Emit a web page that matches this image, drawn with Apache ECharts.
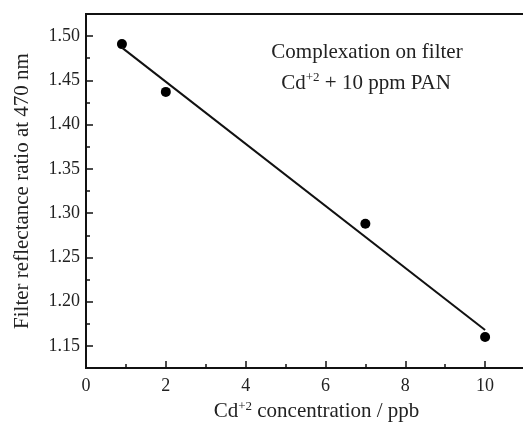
<!DOCTYPE html>
<html>
<head>
<meta charset="utf-8">
<script src="https://cdn.jsdelivr.net/npm/echarts@6/dist/echarts.min.js"></script>
<style>
  html, body { margin: 0; padding: 0; background: #fff; }
  #chart { width: 523px; height: 426px; }
</style>
</head>
<body>
<div id="chart"></div>
<script>
// measured points
const concentration = [0.9, 2, 7, 10];
const reflectance = [1.491, 1.437, 1.288, 1.160];
// linear fit endpoints
const fitX = [0.9, 10];
const fitY = [1.487, 1.168];
// y tick values
const yTicks = [1.15, 1.20, 1.25, 1.30, 1.35, 1.40, 1.45, 1.50];
const yMinorTicks = [1.175, 1.225, 1.275, 1.325, 1.375, 1.425, 1.475];

const font = "'Liberation Serif', 'Times New Roman', serif";
const ink = "#222";

const chart = echarts.init(document.getElementById("chart"));

chart.setOption({
  animation: false,
  grid: {
    left: 86, top: 14, width: 443, height: 354,
    outerBoundsMode: "none",
    show: true, borderColor: "#111", borderWidth: 2,
  },
  xAxis: {
    type: "value",
    min: 0,
    max: 11.1,
    interval: 2,
    name: "{t|Cd}{s|+2}{t| concentration / ppb}",
    nameLocation: "middle",
    nameGap: 31,
    nameTextStyle: {
      padding: [0, 0, 0, 18],
      rich: {
        t: { fontFamily: font, fontSize: 21, color: ink },
        s: { fontFamily: font, fontSize: 13, color: ink, verticalAlign: "bottom", padding: [0, 0, 11, 0] },
      },
    },
    axisLine: { show: true, lineStyle: { color: "#111", width: 2 } },
    axisTick: { show: true, inside: true, length: 7, lineStyle: { color: "#111", width: 1.5 } },
    minorTick: { show: true, splitNumber: 2, length: 4, lineStyle: { color: "#111", width: 1.5 } },
    axisLabel: { color: ink, fontFamily: font, fontSize: 18, margin: 9, showMaxLabel: false },
    splitLine: { show: false },
  },
  yAxis: [
    {
      type: "value",
      min: 1.125,
      max: 1.525,
      name: "Filter reflectance ratio at 470 nm",
      nameLocation: "middle",
      nameGap: 53,
      nameTextStyle: { fontFamily: font, fontSize: 21, color: ink },
      axisLine: { show: true, lineStyle: { color: "#111", width: 2 } },
      axisTick: { show: true, inside: true, length: 7, customValues: yTicks, lineStyle: { color: "#111", width: 1.5 } },
      axisLabel: {
        color: ink,
        fontFamily: font,
        fontSize: 18,
        margin: 6,
        customValues: yTicks,
        formatter: (v) => v.toFixed(2),
      },
      splitLine: { show: false },
    },
    {
      type: "value",
      position: "left",
      min: 1.125,
      max: 1.525,
      axisLine: { show: false },
      axisTick: { show: true, inside: true, length: 4, customValues: yMinorTicks, lineStyle: { color: "#111", width: 1.5 } },
      axisLabel: { show: false },
      splitLine: { show: false },
    },
  ],
  graphic: [
    {
      type: "text",
      x: 367,
      y: 52,
      style: {
        text: "Complexation on filter",
        fontFamily: font,
        fontSize: 21,
        fill: ink,
        align: "center",
        verticalAlign: "middle",
      },
    },
    {
      type: "text",
      x: 366,
      y: 83,
      style: {
        text: "{t|Cd}{s|+2}{t| + 10 ppm PAN}",
        align: "center",
        verticalAlign: "middle",
        rich: {
          t: { fontFamily: font, fontSize: 21, fill: ink },
          s: { fontFamily: font, fontSize: 13, fill: ink, verticalAlign: "bottom", padding: [0, 0, 11, 0] },
        },
      },
    },
  ],
  series: [
    {
      type: "line",
      data: fitX.map((x, i) => [x, fitY[i]]),
      showSymbol: false,
      lineStyle: { color: "#111", width: 2 },
      silent: true,
    },
    {
      type: "scatter",
      data: concentration.map((x, i) => [x, reflectance[i]]),
      symbol: "circle",
      symbolSize: 10,
      itemStyle: { color: "#000", opacity: 1 },
    },
  ],
});
</script>
</body>
</html>
